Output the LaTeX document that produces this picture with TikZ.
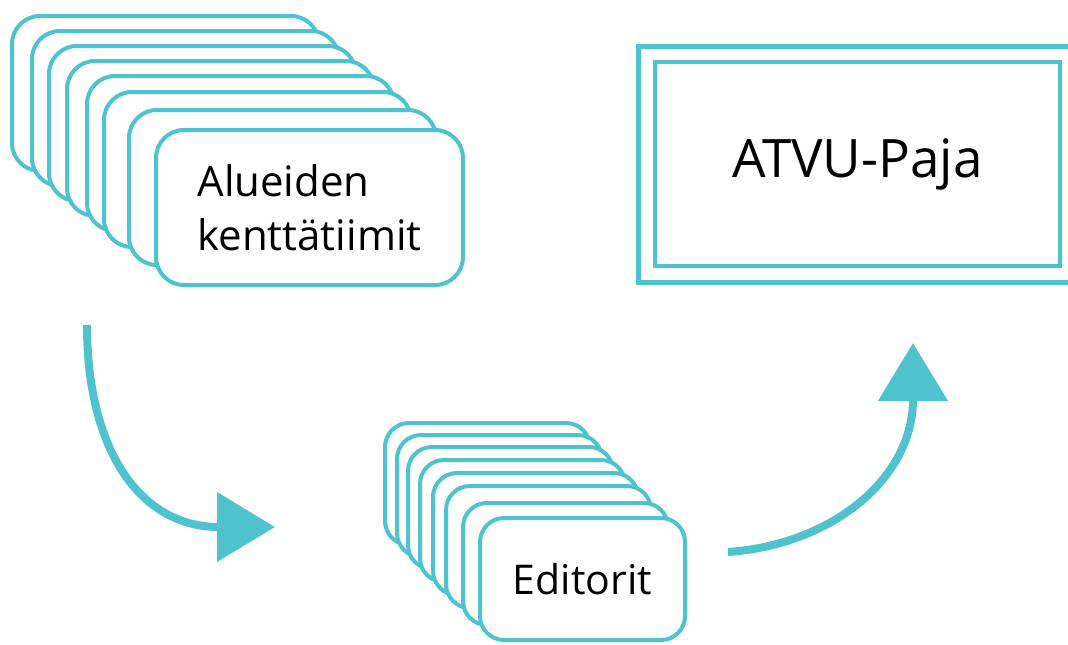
\documentclass[tikz,border=0pt]{standalone}
\usepackage{fontspec}
\setmainfont{Open Sans}
\usetikzlibrary{arrows.meta}
\usetikzlibrary{positioning}

\begin{document}
\begin{tikzpicture}[x=1pt, y=-1pt]
    \definecolor{my_teal}{HTML}{4EC3CE}
    \tikzstyle{card}=[draw = my_teal, fill = white, line width = 4pt, inner sep = 0pt]
    \tikzstyle{bigcard}=[card, rounded corners = 28pt, minimum width = 307pt, minimum height = 155pt]
    \tikzstyle{smallcard}=[card, rounded corners = 24pt, minimum width = 205pt, minimum height = 122pt]
    \tikzstyle{flow}=[my_teal, line width = 8pt, -{Triangle[length = 58pt, width = 68pt]}]
    \clip (0,0) rectangle (1068,645);
    % kenttatiimien pino
    \foreach \x/\y [count=\i] in {12/16, 32/31, 49/46, 67/61, 87/76, 104/92, 129/110}
        \node[bigcard] (tiimi\i) at (\x+153.5, \y+77.5) {};
    \node[bigcard, font = \fontsize{42}{54}\selectfont, align = left] (kentta) at (309.5, 207.5) {Alueiden\\kenttätiimit};
    % editorien pino
    \foreach \x/\y [count=\i] in {385/423, 397/435, 408/447, 420/460, 433/473, 446/486, 463/503}
        \node[smallcard] (editori\i) at (\x+102.5, \y+61) {};
    \node[smallcard, font = \fontsize{41}{54}\selectfont] (editorit) at (582.5, 579) {Editorit};
    % paja
    \node[draw = my_teal, line width = 5pt, minimum width = 447pt, minimum height = 236pt] (paja_ulko) at (861.5, 164) {};
    \node[draw = my_teal, line width = 4pt, minimum width = 405pt, minimum height = 204pt, font = \fontsize{53}{64}\selectfont] (paja) at (857.5, 164) {ATVU-Paja};
    % nuolet
    \coordinate (alku1) at (87, 325);
    \coordinate (loppu1) at (275, 527);
    \coordinate (alku2) at (728, 552);
    \coordinate (loppu2) at (913, 343);
    \draw[flow] (alku1) .. controls (87, 450) and (140, 527) .. (loppu1);
    \draw[flow] (alku2) .. controls (830, 545) and (913, 480) .. (loppu2);
\end{tikzpicture}
\end{document}
